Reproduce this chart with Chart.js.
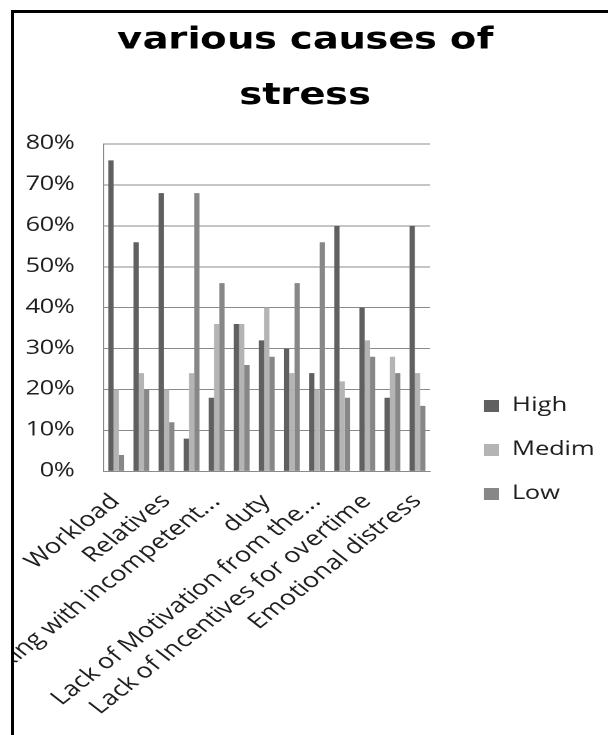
<!DOCTYPE html>
<html>
<head>
<meta charset="utf-8">
<script src="https://cdn.jsdelivr.net/npm/chart.js@4.4.1/dist/chart.umd.min.js"></script>
<style>
  @font-face { font-family: 'OSLocal'; src: local('Open Sans'), local('Open Sans Regular'), local('OpenSans-Regular'); font-weight: 400; }
  @font-face { font-family: 'DVBLocal'; src: local('DejaVu Sans Bold'), local('DejaVuSans-Bold'); font-weight: 700; }
  html, body { margin: 0; padding: 0; background: #fff; width: 608px; height: 735px; overflow: hidden; }
  #frame { position: absolute; left: 11px; top: 10px; width: 640px; height: 760px;
           border-top: 3px solid #000; border-left: 3px solid #000; }
  #wrap { position: absolute; left: 14px; top: 13px; width: 464px; height: 722px;
          transform: scaleX(1.28); transform-origin: 0 0; }
  #warm { position: absolute; left: -9999px; top: 0; font: 20px OSLocal, 'Open Sans'; }
  #warm b { font: bold 30px DVBLocal, 'DejaVu Sans'; }
</style>
</head>
<body>
<div id="warm">High Medim Low 80% <b>stress</b></div>
<div id="frame"></div>
<div id="wrap"><canvas id="c" width="464" height="722"></canvas></div>
<script>
const categories = ['Workload', '', 'Relatives', '', 'Working with incompetent...', '', 'duty', '',
  'Lack of Motivation from the...', '', 'Lack of Incentives for overtime', '', 'Emotional distress'];
const high   = [76, 56, 68, 8, 18, 36, 32, 30, 24, 60, 40, 18, 60];
const medim  = [20, 24, 20, 24, 36, 36, 40, 24, 20, 22, 32, 28, 24];
const low    = [4, 20, 12, 68, 46, 26, 28, 46, 56, 18, 28, 24, 16];
const seriesNames = ['High', 'Medim', 'Low'];
const yTicks = [0, 10, 20, 30, 40, 50, 60, 70, 80];
const titleLines = ['various causes of', 'stress'];

const colors = ['#606060', '#b4b4b4', '#878787'];
const txt = '#1e1e1e';
const sansFam = "OSLocal, 'Open Sans', sans-serif";
const titleFam = "DVBLocal, 'DejaVu Sans', sans-serif";

function build() {
  new Chart(document.getElementById('c'), {
    type: 'bar',
    data: {
      labels: categories,
      datasets: [high, medim, low].map((d, i) => ({
        label: seriesNames[i], data: d, backgroundColor: colors[i], borderWidth: 0,
        categoryPercentage: 0.63, barPercentage: 1.0
      }))
    },
    options: {
      responsive: false, animation: false, devicePixelRatio: 2,
      layout: { autoPadding: false, padding: { left: -9, right: 0, top: 0, bottom: 5 } },
      plugins: {
        tooltip: { enabled: false },
        title: {
          display: true, text: titleLines, color: '#000',
          font: { family: titleFam, weight: 'bold', size: 30, lineHeight: 1.85 },
          padding: { top: 0, bottom: 20 }
        },
        legend: {
          position: 'right', align: 'center', maxWidth: 220,
          title: { display: true, text: '', font: { size: 10, lineHeight: 1 }, padding: { top: 0, bottom: 147 } },
          labels: { boxWidth: 12, boxHeight: 12, padding: 24, color: txt,
                    font: { family: sansFam, size: 20 } }
        }
      },
      scales: {
        x: {
          grid: { display: false },
          border: { display: true, color: '#8a8a8a', width: 1 },
          ticks: { color: txt, autoSkip: false, minRotation: 45, maxRotation: 45, padding: 10,
                   font: { family: sansFam, size: 21 } }
        },
        y: {
          min: 0, max: 80,
          afterBuildTicks: (s) => { s.ticks = yTicks.map(v => ({ value: v })); },
          grid: { color: '#8a8a8a', lineWidth: 1, drawTicks: false },
          border: { display: true, color: '#8a8a8a', width: 1 },
          ticks: { color: txt, padding: 23, callback: (v) => v + '%',
                   font: { family: sansFam, size: 20 } }
        },
        yR: {
          position: 'right', display: true,
          grid: { display: false }, border: { display: false },
          ticks: { display: false },
          afterFit: (s) => { s.width = 18; }
        }
      }
    }
  });
}

const wait = (ms) => new Promise((r) => setTimeout(r, ms));
const fontsReady = document.fonts
  ? Promise.all([document.fonts.load('20px OSLocal'), document.fonts.load('bold 30px DVBLocal'),
                 document.fonts.load("20px 'Open Sans'")]).catch(() => {})
  : Promise.resolve();
Promise.all([fontsReady, wait(150)]).then(() => (document.fonts ? document.fonts.ready : null)).then(build);
</script>
</body>
</html>
